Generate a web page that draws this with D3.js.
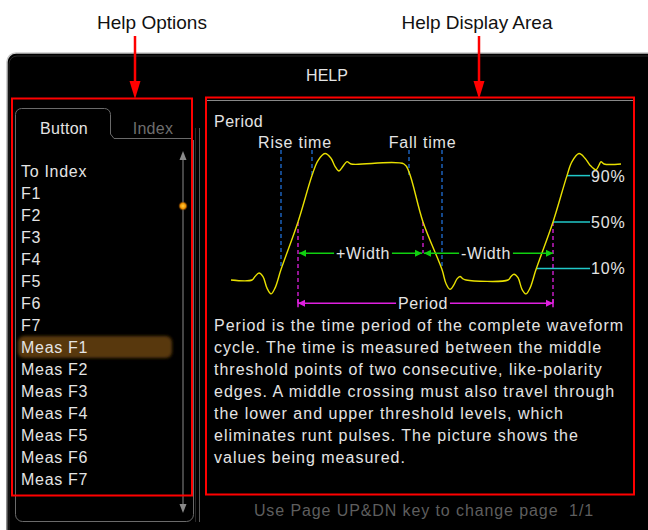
<!DOCTYPE html>
<html><head><meta charset="utf-8">
<script src="https://cdn.jsdelivr.net/npm/d3@7"></script>
<style>
html,body{margin:0;padding:0;background:#fff;}
svg{display:block;}
text{font-family:"Liberation Sans",Arial,sans-serif;white-space:pre;}
</style></head>
<body>
<svg id="c" width="648" height="530"></svg>
<script>
// ---------- data ----------
const calloutLabels = ["Help Options", "Help Display Area"];
const title = "HELP";
const tabs = ["Button", "Index"];
const listItems = ["To Index","F1","F2","F3","F4","F5","F6","F7",
  "Meas F1","Meas F2","Meas F3","Meas F4","Meas F5","Meas F6","Meas F7"];
const selectedItem = "Meas F1";
const topicTitle = "Period";
// waveform: [time, level] (level 0 = low, 1 = high)
const waveT = [0,21,24,28,32,36,40,44,50,67,81,87,94,100,104,108,112,116,120,
  173,178,192,211,215,219,223,226,229,232,235,
  277,280,283,287,291,295,299,305,322,336,341,348,354,359,365,368,370,373,390];
const waveV = [0,0,0.03,0.06,0.03,-0.07,-0.12,-0.07,0.09,0.5,0.9,1.03,1.09,1.05,0.98,0.94,0.98,1.02,1.0,
  1.0,0.93,0.5,0.09,-0.03,-0.08,-0.04,0.01,0.03,0.01,0,
  0,0.03,0.05,0.02,-0.08,-0.12,-0.07,0.09,0.5,0.9,1.02,1.09,1.05,0.99,0.95,0.99,1.02,1.0,1.0];
const edgeMarkT = [50, 81, 178, 211];         // rise/fall time markers
const edgeMarkV = [0.1, 0.9, 0.9, 0.1];
const edgeLabels = ["Rise time", "Fall time"];
const edgeLabelT = [64, 191.5];
const midT = [67, 192, 322];                    // 50% crossings
const widthLabels = ["+Width", "-Width"];
const widthLevel = 0.23;
const periodLevel = -0.2;
const periodLabel = "Period";
const thresholdLabels = ["90%", "50%", "10%"];
const thresholdV = [0.9, 0.5, 0.1];
const thresholdStartT = [336, 322, 305];
const thresholdEndT = 359;
const paragraph = [
  "Period is the time period of the complete waveform",
  "cycle. The time is measured between the middle",
  "threshold points of two consecutive, like-polarity",
  "edges. A middle crossing must also travel through",
  "the lower and upper threshold levels, which",
  "eliminates runt pulses. The picture shows the",
  "values being measured."
];
const footer = "Use Page UP&DN key to change page  1/1";

// ---------- drawing ----------
const svg = d3.select("#c");
const defs = svg.append("defs");
const blur = defs.append("filter").attr("id","blur").attr("x","-20%").attr("y","-50%").attr("width","140%").attr("height","200%");
blur.append("feGaussianBlur").attr("stdDeviation",1.6);
const rg = defs.append("radialGradient").attr("id","dot");
rg.append("stop").attr("offset","0%").attr("stop-color","#ffd040");
rg.append("stop").attr("offset","60%").attr("stop-color","#f09000");
rg.append("stop").attr("offset","100%").attr("stop-color","#804000").attr("stop-opacity",0.3);
const pg = defs.append("linearGradient").attr("id","edge").attr("x1",0).attr("x2",0).attr("y1",0).attr("y2",1);
pg.append("stop").attr("offset","0%").attr("stop-color","#c8c8c8");
pg.append("stop").attr("offset","100%").attr("stop-color","#606060");

const WHITE = "#e4e4e4";

// main panel
svg.append("rect").attr("x",7).attr("y",53).attr("width",660).attr("height",500)
  .attr("rx",9).attr("fill","#000").attr("stroke","url(#edge)").attr("stroke-width",1.5);
svg.append("rect").attr("x",9).attr("y",56).attr("width",660).attr("height",500)
  .attr("rx",8).attr("fill","none").attr("stroke","#2a2a2a").attr("stroke-width",1);

// title
svg.append("text").attr("x",327).attr("y",81).attr("text-anchor","middle")
  .attr("font-size",16).attr("fill",WHITE).text(title);

// separators
svg.append("line").attr("x1",207).attr("x2",633).attr("y1",100.5).attr("y2",100.5).attr("stroke","#888").attr("stroke-width",1);
svg.append("line").attr("x1",199.5).attr("x2",199.5).attr("y1",128).attr("y2",522).attr("stroke","#555").attr("stroke-width",1);
svg.append("line").attr("x1",195.5).attr("x2",195.5).attr("y1",128).attr("y2",522).attr("stroke","#262626").attr("stroke-width",1);

// tab frame (left)
const tabPath = d3.path();
tabPath.moveTo(192,138.5);
tabPath.lineTo(114,138.5);
tabPath.lineTo(110.5,134);
tabPath.lineTo(110.5,115);
tabPath.arcTo(110.5,108.5,104,108.5,6);
tabPath.lineTo(22,108.5);
tabPath.arcTo(15.5,108.5,15.5,115,6);
tabPath.lineTo(15.5,514);
tabPath.arcTo(15.5,521.5,23,521.5,7);
tabPath.lineTo(186,521.5);
tabPath.arcTo(193.5,521.5,193.5,514,7);
tabPath.lineTo(193.5,140);
svg.append("path").attr("d",tabPath.toString()).attr("fill","none").attr("stroke","#6a6a6a").attr("stroke-width",1);
svg.append("g").selectAll("text").data(tabs).join("text")
  .attr("x",(d,i)=> i===0 ? 64 : 153).attr("y",134).attr("text-anchor","middle")
  .attr("font-size",16).attr("letter-spacing",0.3).attr("fill",(d,i)=> i===0 ? WHITE : "#6e6e6e").text(d=>d);

// scrollbar
svg.append("line").attr("x1",183).attr("x2",183).attr("y1",160).attr("y2",504).attr("stroke","#5c5c5c").attr("stroke-width",1.5);
svg.append("path").attr("d","M183,151 L186.5,160 L179.5,160 Z").attr("fill","#8a8a8a");
svg.append("path").attr("d","M183,513 L186.5,504 L179.5,504 Z").attr("fill","#8a8a8a");
svg.append("circle").attr("cx",183).attr("cy",206).attr("r",4.5).attr("fill","url(#dot)");

// list
const yList = d3.scaleLinear().domain([0, listItems.length-1]).range([171, 479]);
const selIdx = listItems.indexOf(selectedItem);
svg.append("rect").attr("x",18).attr("y",yList(selIdx)-11).attr("width",154).attr("height",22)
  .attr("rx",6).attr("fill","#583808").attr("filter","url(#blur)");
svg.append("g").selectAll("text").data(listItems).join("text")
  .attr("x",21).attr("y",(d,i)=>yList(i)+6).attr("font-size",16).attr("letter-spacing",0.7)
  .attr("fill",WHITE).text(d=>d);

// waveform area
const x = d3.scaleLinear().domain([0,390]).range([231,621]);
const y = d3.scaleLinear().domain([0,1]).range([280,164]);
const g = svg.append("g");

g.append("text").attr("x",214).attr("y",127).attr("font-size",16).attr("letter-spacing",0.5)
  .attr("fill",WHITE).text(topicTitle);

// rise/fall dashed markers
g.selectAll("line.edge").data(edgeMarkT).join("line").attr("class","edge")
  .attr("x1",d=>x(d)).attr("x2",d=>x(d)).attr("y1",150).attr("y2",(d,i)=>y(edgeMarkV[i]))
  .attr("stroke","#1f6fd6").attr("stroke-width",1.3).attr("stroke-dasharray","4,3");
g.selectAll("text.edge").data(edgeLabels).join("text").attr("class","edge")
  .attr("x",(d,i)=>x(edgeLabelT[i])).attr("y",148).attr("text-anchor","middle")
  .attr("font-size",16).attr("letter-spacing",0.8).attr("fill",WHITE).text(d=>d);

// mid-level magenta dashed lines
const midEnds = [periodLevel, widthLevel, periodLevel];
g.selectAll("line.mid").data(midT).join("line").attr("class","mid")
  .attr("x1",d=>x(d)).attr("x2",d=>x(d)).attr("y1",y(0.5)).attr("y2",(d,i)=>y(midEnds[i]))
  .attr("stroke","#e020e0").attr("stroke-width",1.3).attr("stroke-dasharray","4,3");

// threshold lines
g.selectAll("line.th").data(thresholdV).join("line").attr("class","th")
  .attr("x1",(d,i)=>x(thresholdStartT[i])).attr("x2",x(thresholdEndT))
  .attr("y1",d=>y(d)).attr("y2",d=>y(d)).attr("stroke","#20c8c8").attr("stroke-width",1.5);
g.selectAll("text.th").data(thresholdLabels).join("text").attr("class","th")
  .attr("x",x(thresholdEndT)+1).attr("y",(d,i)=>y(thresholdV[i])+6)
  .attr("font-size",16).attr("letter-spacing",0.8).attr("fill",WHITE).text(d=>d);

// waveform
const line = d3.line().x((d,i)=>x(waveT[i])).y((d,i)=>y(waveV[i])).curve(d3.curveCatmullRom.alpha(0.5));
g.append("path").datum(waveT).attr("d",line).attr("fill","none").attr("stroke","#e8e000").attr("stroke-width",1.4);

// arrows
function arrow(x1, x2, yy, color, label, cx, bars){
  g.append("line").attr("x1",x1).attr("x2",x2).attr("y1",yy).attr("y2",yy).attr("stroke",color).attr("stroke-width",1.5);
  g.append("path").attr("d",`M${x1},${yy} L${x1+7},${yy-3.5} L${x1+7},${yy+3.5} Z`).attr("fill",color);
  g.append("path").attr("d",`M${x2},${yy} L${x2-7},${yy-3.5} L${x2-7},${yy+3.5} Z`).attr("fill",color);
  if (bars){
    g.append("line").attr("x1",x1).attr("x2",x1).attr("y1",yy-4).attr("y2",yy+4).attr("stroke",color).attr("stroke-width",1.5);
    g.append("line").attr("x1",x2).attr("x2",x2).attr("y1",yy-4).attr("y2",yy+4).attr("stroke",color).attr("stroke-width",1.5);
  }
  const t = g.append("text").attr("x",cx).attr("y",yy+6).attr("text-anchor","middle")
    .attr("font-size",16).attr("letter-spacing",0.6).attr("fill",WHITE).text(label);
  const bb = t.node().getBBox();
  g.insert("rect", () => t.node()).attr("x",bb.x-2).attr("y",yy-6).attr("width",bb.width+4).attr("height",12).attr("fill","#000");
}
arrow(x(midT[0])+1, x(midT[1])-1, y(widthLevel), "#10d010", widthLabels[0], 363, false);
arrow(x(midT[1])+1, x(midT[2]), y(widthLevel), "#10d010", widthLabels[1], 486, false);
arrow(x(midT[0]), x(midT[2]), y(periodLevel), "#e020e0", periodLabel, 423, true);

// paragraph
const yPara = d3.scaleLinear().domain([0, paragraph.length-1]).range([325, 457]);
svg.append("g").selectAll("text").data(paragraph).join("text")
  .attr("x",214).attr("y",(d,i)=>yPara(i)+6).attr("font-size",16).attr("letter-spacing",1.0)
  .attr("fill",WHITE).text(d=>d);

// footer
svg.append("text").attr("x",424).attr("y",516).attr("text-anchor","middle")
  .attr("font-size",16).attr("letter-spacing",0.9).attr("fill","#5e5e5e").text(footer);

// red boxes
svg.append("rect").attr("x",12).attr("y",98.5).attr("width",180).attr("height",397)
  .attr("fill","none").attr("stroke","#ff0000").attr("stroke-width",2);
svg.append("rect").attr("x",206).attr("y",97.5).attr("width",428).attr("height",397)
  .attr("fill","none").attr("stroke","#ff0000").attr("stroke-width",2);

// callouts
const calloutX = [135, 479];
const calloutTextX = [152, 477];
svg.append("g").selectAll("text").data(calloutLabels).join("text")
  .attr("x",(d,i)=>calloutTextX[i]).attr("y",29).attr("text-anchor","middle")
  .attr("font-size",19).attr("fill","#111").text(d=>d);
calloutX.forEach(cx=>{
  svg.append("line").attr("x1",cx).attr("x2",cx).attr("y1",36).attr("y2",84).attr("stroke","#ff0000").attr("stroke-width",2.5);
  svg.append("path").attr("d",`M${cx-5.5},81 L${cx+5.5},81 L${cx},99 Z`).attr("fill","#ff0000");
});
</script>
</body></html>
